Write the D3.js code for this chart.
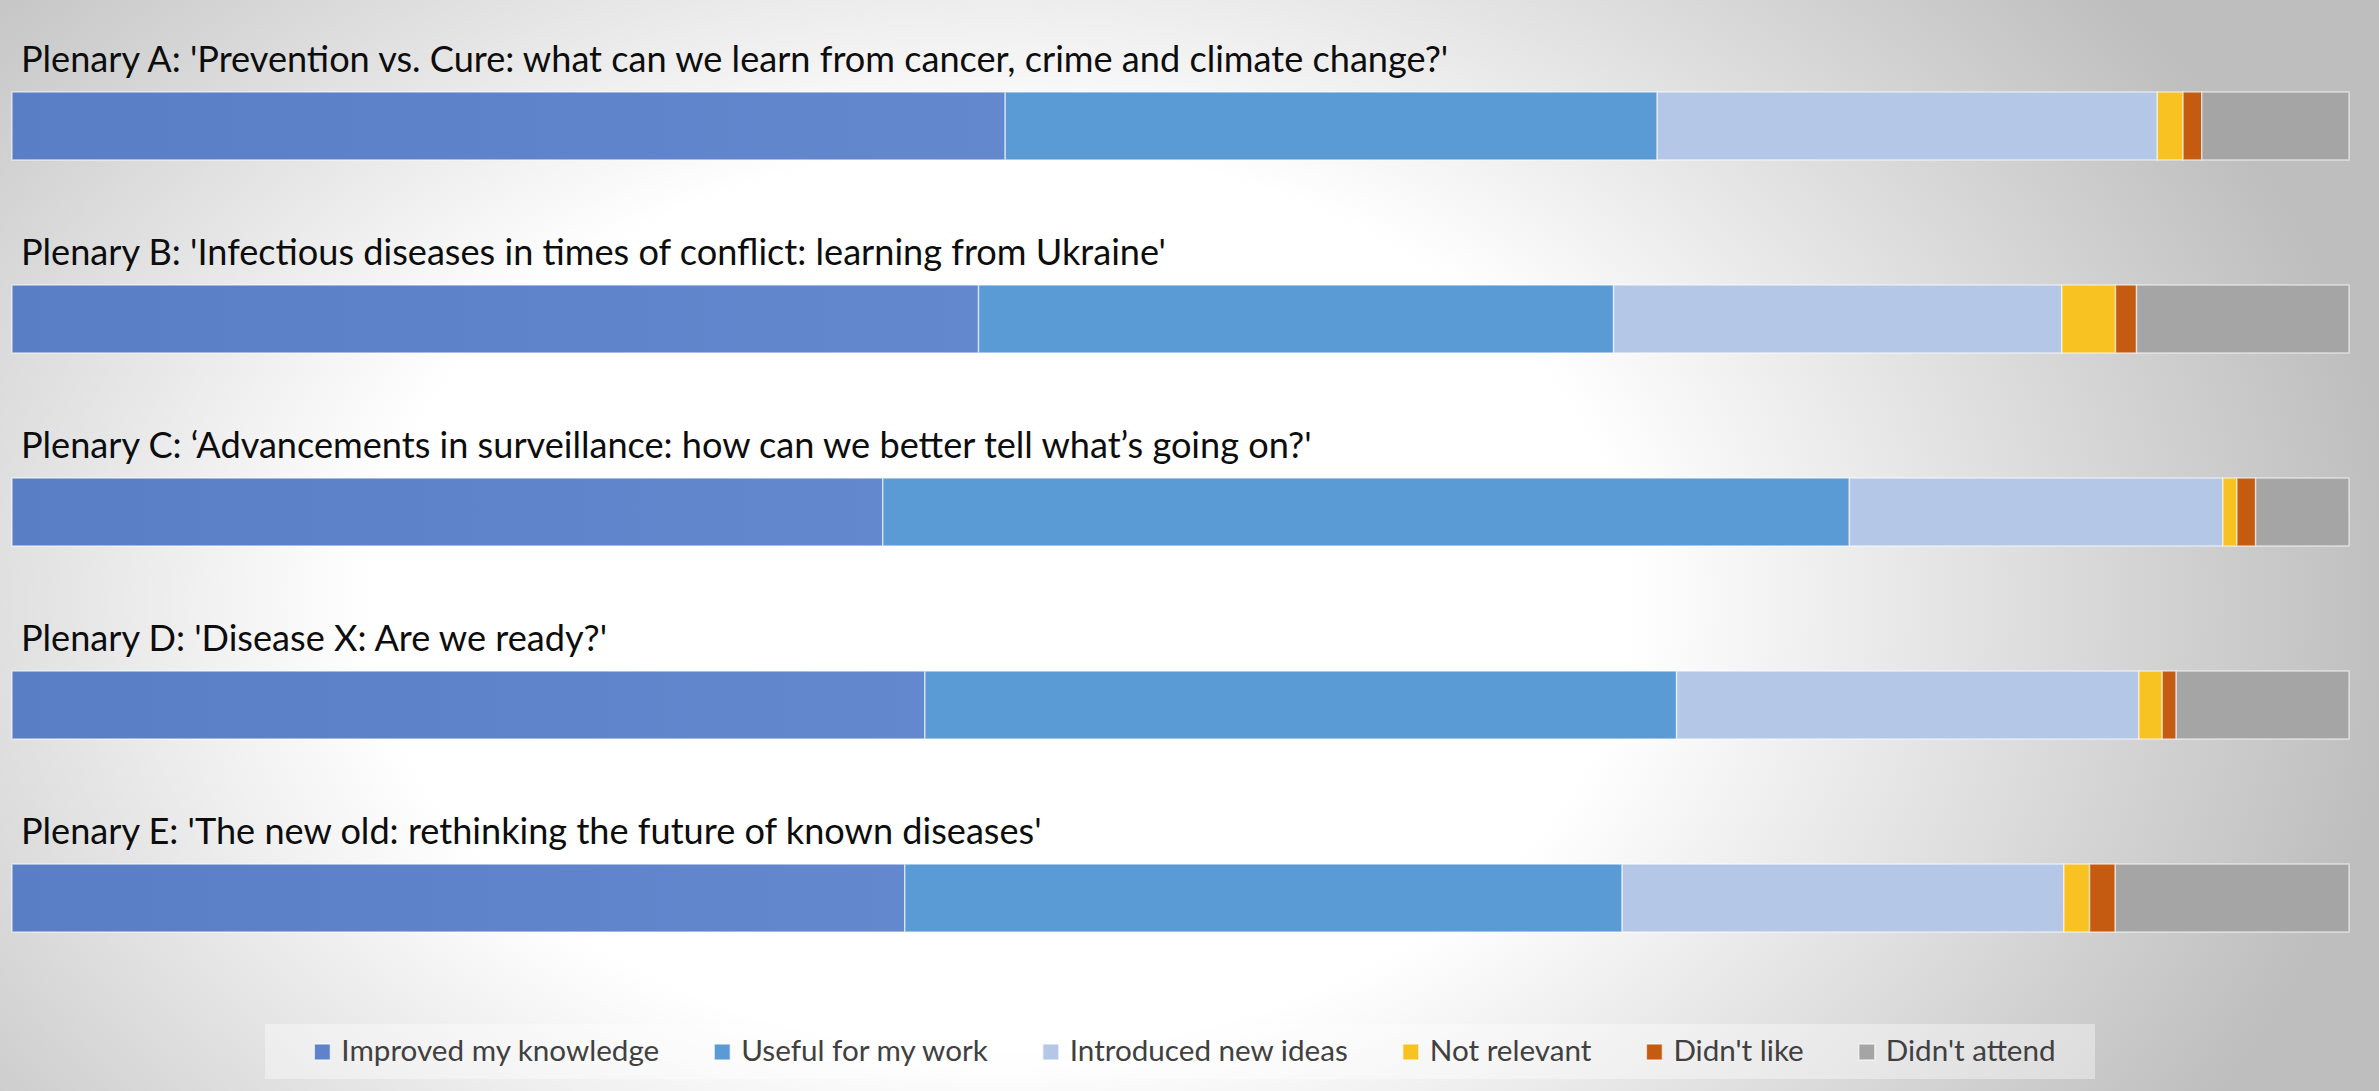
<!DOCTYPE html>
<html>
<head>
<meta charset="utf-8">
<script src="https://cdn.jsdelivr.net/npm/d3@7"></script>
<style>
html, body { margin: 0; padding: 0; overflow: hidden; background: #fff; }
text { font-family: Lato, "Open Sans", sans-serif; }
</style>
</head>
<body>
<div id="chart"></div>
<script>
// plenary sessions, top to bottom
const plenaries = [
    "Plenary A: 'Prevention vs. Cure: what can we learn from cancer, crime and climate change?'",
    "Plenary B: 'Infectious diseases in times of conflict: learning from Ukraine'",
    "Plenary C: \u2018Advancements in surveillance: how can we better tell what\u2019s going on?'",
    "Plenary D: 'Disease X: Are we ready?'",
    "Plenary E: 'The new old: rethinking the future of known diseases'"
]
const answers = ["Improved my knowledge", "Useful for my work", "Introduced new ideas", "Not relevant", "Didn't like", "Didn't attend"]

// share of answers (%)
const improved    = [42.5, 41.4, 37.3, 39.1, 38.2]
const useful      = [27.9, 27.2, 41.4, 32.2, 30.7]
const newIdeas    = [21.4, 19.2, 16.0, 19.8, 18.9]
const notRelevant = [1.1, 2.3, 0.6, 1.0, 1.1]
const didntLike   = [0.8, 0.9, 0.8, 0.6, 1.1]
const didntAttend = [6.3, 9.1, 4.0, 7.4, 10.0]

const colors = ["url(#firstGrad)", "#5B9BD5", "#B4C7E7", "#F9C223", "#C55A11", "#A5A5A5"]
const legendColors = ["#5E83CA", "#5B9BD5", "#B4C7E7", "#F9C223", "#C55A11", "#A5A5A5"]

let series = [improved, useful, newIdeas, notRelevant, didntLike, didntAttend]
let rows = plenaries.map((p, i) => {
    let r = {plenary: p}
    answers.forEach((a, k) => r[a] = series[k][i])
    return r
})

let width = 2379, height = 1091

let svg = d3.select("#chart").append("svg")
    .attr("width", width)
    .attr("height", height)

let defs = svg.append("defs")
let bg = defs.append("radialGradient")
    .attr("id", "bgGrad")
    .attr("gradientUnits", "userSpaceOnUse")
    .attr("cx", 0).attr("cy", 0).attr("r", 1)
    .attr("gradientTransform", "translate(1000,600) scale(1400,1000)")
bg.append("stop").attr("offset", 0).attr("stop-color", "#ffffff")
bg.append("stop").attr("offset", 0.45).attr("stop-color", "#ffffff")
bg.append("stop").attr("offset", 1).attr("stop-color", "#bebebe")

let fg = defs.append("linearGradient").attr("id", "firstGrad")
    .attr("x1", 0).attr("x2", 1).attr("y1", 0).attr("y2", 0)
fg.append("stop").attr("offset", 0).attr("stop-color", "#5A7EC6")
fg.append("stop").attr("offset", 1).attr("stop-color", "#6388CE")

svg.append("rect")
    .attr("width", width).attr("height", height)
    .attr("fill", "url(#bgGrad)")

let x = d3.scaleLinear().domain([0, 1]).range([12, 2349])
let y = d3.scaleBand().domain(plenaries).range([92, 932])
    .paddingInner(0.648).paddingOuter(0)

let stacked = d3.stack().keys(answers).offset(d3.stackOffsetExpand)(rows)

svg.append("g").selectAll("g")
    .data(stacked)
    .join("g")
    .attr("fill", (d, i) => colors[i])
    .selectAll("rect")
    .data(d => d)
    .join("rect")
    .attr("x", d => x(d[0]))
    .attr("y", d => y(d.data.plenary))
    .attr("width", d => x(d[1]) - x(d[0]))
    .attr("height", y.bandwidth())
    .attr("stroke", "rgba(255,255,255,0.55)")
    .attr("stroke-width", 1.5)

// session titles above each bar
let titles = svg.append("g").selectAll("text")
    .data(plenaries)
    .join("text")
    .attr("x", 21)
    .attr("y", d => y(d) - 20)
    .attr("fill", "#0d0d0d")
    .style("font-size", "32px")
    .text(d => d)

// fit title font to the width of the first one
let tw = titles.node().getComputedTextLength()
let titleSize = 32 * 1428 / tw
titles.style("font-size", titleSize + "px")

// legend
let legend = svg.append("g")
legend.append("rect")
    .attr("x", 265).attr("y", 1024)
    .attr("width", 1830).attr("height", 55)
    .attr("fill", "rgba(255,255,255,0.38)")

let items = legend.selectAll("g.item")
    .data(answers)
    .join("g").attr("class", "item")

let labels = items.append("text")
    .attr("y", 1061)
    .attr("fill", "#404040")
    .style("font-size", "27px")
    .text(d => d)

let lw = labels.node().getComputedTextLength()
let legendSize = 27 * 318 / lw
labels.style("font-size", legendSize + "px")

let widths = labels.nodes().map(n => n.getComputedTextLength())
let total = d3.sum(widths) + answers.length * 27 + (answers.length - 1) * 55
let cx = 265 + 1830 / 2 + 5
let pos = cx - total / 2
items.each(function(d, i) {
    let g = d3.select(this)
    g.insert("rect", "text")
        .attr("x", pos).attr("y", 1044)
        .attr("width", 16).attr("height", 16)
        .attr("fill", legendColors[i])
        .attr("stroke", "rgba(255,255,255,0.6)")
        .attr("stroke-width", 1.5)
    g.select("text").attr("x", pos + 27)
    pos += 27 + widths[i] + 55
})
</script>
</body>
</html>
